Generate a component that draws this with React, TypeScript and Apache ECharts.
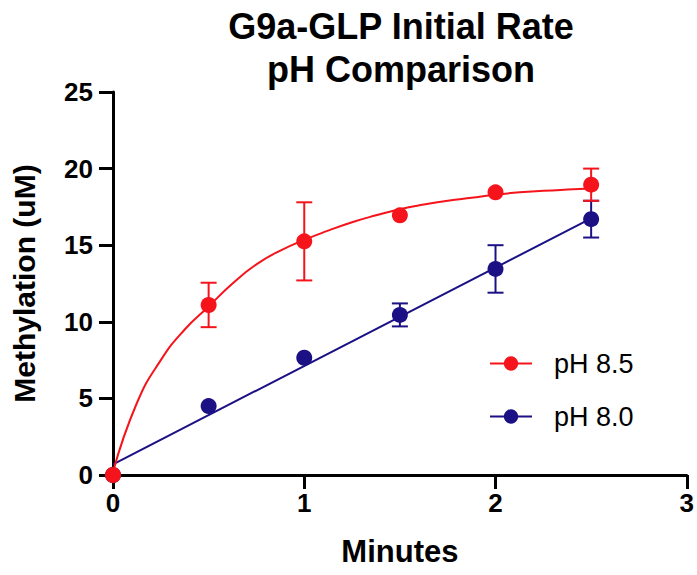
import React, { useEffect, useRef } from "react";
import * as echarts from "echarts";

// ---- data ----
const minutes = [0, 0.5, 1, 1.5, 2, 2.5];
const ph85Mean = [0, 11.1, 15.25, 16.95, 18.45, 18.95];
const ph85Sd = [0, 1.45, 2.55, 0, 0, 1.05];
const ph80Mean = [0, 4.5, 7.65, 10.45, 13.45, 16.7];
const ph80Sd = [0, 0, 0, 0.75, 1.55, 1.2];

// fitted curves
const ph85FitX = [0, 0.125, 0.25, 0.375, 0.5, 0.625, 0.75, 0.875, 1.0, 1.125, 1.25, 1.375, 1.5, 1.625, 1.75, 1.875, 2.0, 2.125, 2.25, 2.375, 2.5];
const ph85FitY = [0.2, 4.7, 7.5, 9.5, 11.0, 12.5, 13.75, 14.65, 15.35, 15.95, 16.5, 16.95, 17.35, 17.65, 17.9, 18.1, 18.3, 18.45, 18.55, 18.63, 18.7];
const ph80FitX = [0, 2.5];
const ph80FitY = [0.7, 16.75];

const xTicks = [0, 1, 2, 3];
const yTicks = [0, 5, 10, 15, 20, 25];

const RED = "#f5141b";
const BLUE = "#1b1184";
const FONT = "'Liberation Sans', Arial, Helvetica, sans-serif";

const zip = (xs: number[], ys: number[]) => xs.map((x, i) => [x, ys[i]]);
const zip3 = (xs: number[], ys: number[], zs: number[]) => xs.map((x, i) => [x, ys[i], zs[i]]);

function errorRender(color: string) {
  return (params: any, api: any) => {
    const x = api.value(0);
    const y = api.value(1);
    const sd = api.value(2);
    if (!sd) return { type: "group", children: [] };
    const top = api.coord([x, y + sd]);
    const bot = api.coord([x, y - sd]);
    const hw = 8;
    const style = { stroke: color, lineWidth: 2 };
    return {
      type: "group",
      children: [
        { type: "line", shape: { x1: top[0], y1: top[1], x2: bot[0], y2: bot[1] }, style },
        { type: "line", shape: { x1: top[0] - hw, y1: top[1], x2: top[0] + hw, y2: top[1] }, style },
        { type: "line", shape: { x1: bot[0] - hw, y1: bot[1], x2: bot[0] + hw, y2: bot[1] }, style },
      ],
    };
  };
}

export default function App() {
  const ref = useRef<HTMLDivElement>(null);
  useEffect(() => {
    if (!ref.current) return;
    const chart = echarts.init(ref.current, null, { renderer: "svg" });
    const axisLine = { show: true, lineStyle: { color: "#000", width: 3 } };
    const axisTick = { show: true, inside: false, length: 14, lineStyle: { color: "#000", width: 3 } };
    chart.setOption({
      animation: false,
      backgroundColor: "#fff",
      title: {
        text: "G9a-GLP Initial Rate\npH Comparison",
        left: 401,
        top: 5,
        textAlign: "center",
        padding: 0,
        textStyle: { fontFamily: FONT, fontSize: 36, fontWeight: "bold", color: "#000", lineHeight: 43 },
      },
      legend: {
        orient: "vertical",
        left: 484,
        top: 345,
        itemWidth: 42,
        itemHeight: 18,
        itemGap: 26,
        data: ["pH 8.5", "pH 8.0"],
        textStyle: { fontFamily: FONT, fontSize: 27, color: "#000", lineHeight: 27, padding: [0, 0, 0, 17] },
      },
      grid: { left: 113, right: 9, top: 92, bottom: 100, containLabel: false },
      xAxis: {
        type: "value",
        min: xTicks[0],
        max: xTicks[xTicks.length - 1],
        interval: 1,
        name: "Minutes",
        nameLocation: "middle",
        nameGap: 61,
        nameTextStyle: { fontFamily: FONT, fontSize: 31, fontWeight: "bold", color: "#000" },
        axisLine,
        axisTick,
        splitLine: { show: false },
        axisLabel: { margin: 15, fontFamily: FONT, fontSize: 26, fontWeight: "bold", color: "#000" },
      },
      yAxis: {
        type: "value",
        min: yTicks[0],
        max: yTicks[yTicks.length - 1],
        interval: 5,
        name: "Methylation (uM)",
        nameLocation: "middle",
        nameGap: 74,
        nameTextStyle: { fontFamily: FONT, fontSize: 30, fontWeight: "bold", color: "#000" },
        axisLine,
        axisTick,
        splitLine: { show: false },
        axisLabel: { margin: 20, fontFamily: FONT, fontSize: 26, fontWeight: "bold", color: "#000" },
      },
      series: [
        {
          name: "pH 8.5",
          type: "line",
          z: 4,
          data: zip(ph85FitX, ph85FitY),
          smooth: 0.5,
          symbol: "circle",
          symbolSize: 15,
          showSymbol: false,
          lineStyle: { color: RED, width: 2 },
          itemStyle: { color: RED },
        },
        {
          name: "pH 8.5",
          type: "custom",
          z: 4,
          data: zip3(minutes, ph85Mean, ph85Sd),
          renderItem: errorRender(RED),
        },
        {
          name: "pH 8.5",
          type: "scatter",
          z: 5,
          data: zip(minutes, ph85Mean),
          symbol: "circle",
          symbolSize: 16,
          itemStyle: { color: RED, opacity: 1 },
        },
        {
          name: "pH 8.0",
          type: "line",
          z: 2,
          data: zip(ph80FitX, ph80FitY),
          symbol: "circle",
          symbolSize: 15,
          showSymbol: false,
          lineStyle: { color: BLUE, width: 2 },
          itemStyle: { color: BLUE },
        },
        {
          name: "pH 8.0",
          type: "custom",
          z: 2,
          data: zip3(minutes, ph80Mean, ph80Sd),
          renderItem: errorRender(BLUE),
        },
        {
          name: "pH 8.0",
          type: "scatter",
          z: 3,
          data: zip(minutes, ph80Mean),
          symbol: "circle",
          symbolSize: 16,
          itemStyle: { color: BLUE, opacity: 1 },
        },
      ],
    });
    return () => chart.dispose();
  }, []);
  return (
    <div
      ref={ref}
      style={{ position: "fixed", left: 0, top: 0, width: 697, height: 575, background: "#fff" }}
    />
  );
}
